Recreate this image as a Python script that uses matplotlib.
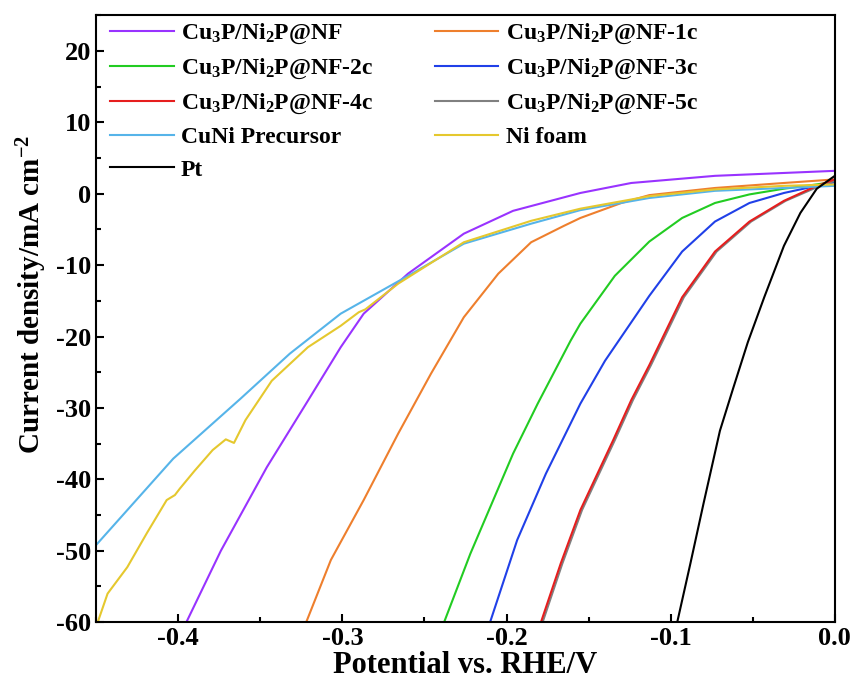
import numpy as np
import matplotlib
matplotlib.use("Agg")
import matplotlib.pyplot as plt
from matplotlib.ticker import MultipleLocator, FormatStrFormatter

plt.rcParams['font.family'] = ['Liberation Serif', 'DejaVu Serif']
plt.rcParams['font.weight'] = 'bold'
plt.rcParams['axes.unicode_minus'] = False
plt.rcParams['mathtext.fontset'] = 'custom'
plt.rcParams['mathtext.rm'] = 'Liberation Serif:bold'
plt.rcParams['mathtext.bf'] = 'Liberation Serif:bold'
plt.rcParams['mathtext.it'] = 'Liberation Serif:bold:italic'

# LSV curves (potential in V vs RHE, current density in mA cm^-2)
nf_x = [-0.395, -0.374, -0.346, -0.321, -0.301, -0.287, -0.260, -0.226, -0.196, -0.155, -0.124, -0.073, 0.0]
nf_y = [-60, -50, -38.3, -29, -21.5, -16.8, -11.2, -5.6, -2.4, 0.1, 1.5, 2.5, 3.2]

c1_x = [-0.322, -0.307, -0.287, -0.266, -0.246, -0.226, -0.205, -0.185, -0.165, -0.155, -0.130, -0.113, -0.073, -0.031, 0.0]
c1_y = [-60, -51.3, -42.9, -33.6, -25.2, -17.3, -11.2, -6.8, -4.5, -3.4, -1.3, -0.2, 0.8, 1.5, 2.0]

c2_x = [-0.238, -0.222, -0.196, -0.181, -0.161, -0.155, -0.134, -0.113, -0.093, -0.073, -0.052, -0.031, -0.011, 0.0]
c2_y = [-60, -50.4, -36.4, -29.4, -20.6, -18.2, -11.5, -6.7, -3.4, -1.3, -0.1, 0.7, 1.3, 1.7]

c3_x = [-0.210, -0.1935, -0.176, -0.155, -0.140, -0.113, -0.093, -0.073, -0.052, -0.031, -0.011, 0.0]
c3_y = [-60, -48.5, -39.2, -29.4, -23.4, -14.3, -8.1, -3.9, -1.3, 0.1, 1.1, 1.6]

c4_x = [-0.179, -0.167, -0.155, -0.135, -0.124, -0.113, -0.093, -0.073, -0.052, -0.031, -0.011, 0.0]
c4_y = [-60, -51.8, -44.3, -34.5, -28.9, -24.0, -14.5, -8.1, -3.9, -1.0, 1.1, 2.0]

c5_x = [-0.178, -0.166, -0.154, -0.134, -0.123, -0.112, -0.092, -0.072, -0.051, -0.030, -0.010, 0.0]
c5_y = [-60, -51.8, -44.3, -34.5, -28.9, -24.0, -14.5, -8.1, -3.9, -1.0, 1.0, 1.8]

pre_x = [-0.45, -0.403, -0.362, -0.332, -0.301, -0.260, -0.226, -0.185, -0.155, -0.113, -0.073, -0.031, 0.0]
pre_y = [-49.2, -37.1, -28.7, -22.4, -16.8, -11.5, -7.0, -4.2, -2.3, -0.6, 0.4, 0.8, 1.1]

nif_x = [-0.449, -0.443, -0.431, -0.419, -0.407, -0.402, -0.399, -0.390, -0.379, -0.371, -0.366,
         -0.359, -0.343, -0.321, -0.301, -0.290, -0.286, -0.266, -0.226, -0.185, -0.155, -0.113,
         -0.073, -0.031, 0.0]
nif_y = [-60, -56, -52.3, -47.5, -42.9, -42.2, -41.3, -38.8, -35.9, -34.4, -34.9,
         -31.7, -26.2, -21.5, -18.5, -16.6, -16.2, -12.6, -6.8, -3.8, -2.1, -0.35,
         0.6, 1.1, 1.3]

pt_x = [-0.096, -0.088, -0.080, -0.070, -0.062, -0.053, -0.043, -0.031, -0.021, -0.011, 0.0]
pt_y = [-60, -51.8, -43.4, -33.2, -27.3, -20.8, -14.5, -7.3, -2.7, 0.7, 2.5]

fig = plt.figure(figsize=(8.58, 6.89), dpi=100)
ax = fig.add_axes([0.112, 0.097, 0.861, 0.881])

lw = 1.5
h_nf, = ax.plot(nf_x, nf_y, color='#9933FF', lw=lw, label='Cu$_3$P/Ni$_2$P@NF')
h1, = ax.plot(c1_x, c1_y, color='#EE7F2D', lw=lw, label='Cu$_3$P/Ni$_2$P@NF-1c')
h2, = ax.plot(c2_x, c2_y, color='#22CC22', lw=lw, label='Cu$_3$P/Ni$_2$P@NF-2c')
h3, = ax.plot(c3_x, c3_y, color='#2040E8', lw=lw, label='Cu$_3$P/Ni$_2$P@NF-3c')
h5, = ax.plot(c5_x, c5_y, color='#808080', lw=lw, label='Cu$_3$P/Ni$_2$P@NF-5c')
h4, = ax.plot(c4_x, c4_y, color='#E61E1E', lw=lw, label='Cu$_3$P/Ni$_2$P@NF-4c')
h_pre, = ax.plot(pre_x, pre_y, color='#56B4E9', lw=lw, label='CuNi Precursor')
h_nif, = ax.plot(nif_x, nif_y, color='#E5C82E', lw=lw, label='Ni foam')
h_pt, = ax.plot(pt_x, pt_y, color='black', lw=lw, label='Pt')

ax.set_xlim(-0.45, 0.0)
ax.set_ylim(-60, 25)
ax.xaxis.set_major_locator(MultipleLocator(0.1))
ax.xaxis.set_minor_locator(MultipleLocator(0.05))
ax.yaxis.set_major_locator(MultipleLocator(10))
ax.yaxis.set_minor_locator(MultipleLocator(5))
ax.xaxis.set_major_formatter(FormatStrFormatter('%.1f'))
ax.tick_params(which='both', direction='in', labelsize=19, width=1.5)
ax.tick_params(which='major', length=6)
ax.tick_params(which='minor', length=3.5)
for s in ax.spines.values():
    s.set_linewidth(1.5)

ax.set_xlabel('Potential vs. RHE/V', fontsize=22, fontweight='bold', labelpad=1)
ax.set_ylabel('Current density/mA cm$^{-2}$', fontsize=21, fontweight='bold')
ax.yaxis.set_label_coords(-0.064, 0.54)

# column-major order so the legend reads row by row like the original
order = [h_nf, h2, h4, h_pre, h_pt, h1, h3, h5, h_nif]
ax.legend(handles=order, loc='upper left', ncol=2, frameon=False, fontsize=17,
          handlelength=2.7, handletextpad=0.3, columnspacing=2.6,
          labelspacing=0.45, borderaxespad=0.2, bbox_to_anchor=(0.0, 1.012))

fig.savefig('out.png', dpi=100)
